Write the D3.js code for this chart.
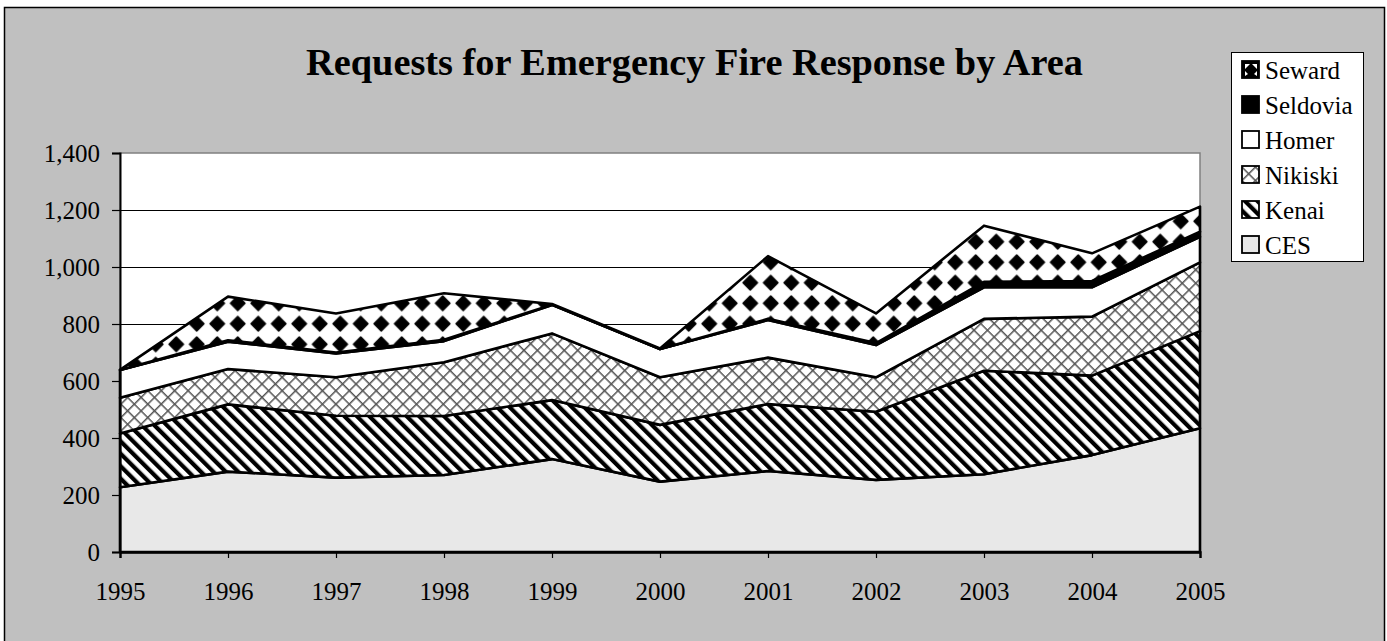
<!DOCTYPE html>
<html>
<head>
<meta charset="utf-8">
<script src="https://cdn.jsdelivr.net/npm/d3@7"></script>
<style>
  html, body { margin: 0; padding: 0; background: #ffffff; }
  svg { display: block; }
  text { font-family: "Liberation Serif", "Times New Roman", serif; fill: #000; }
</style>
</head>
<body>
<svg id="chart" width="1387" height="641"></svg>
<script>
// ---------------- data ----------------
const years = [1995, 1996, 1997, 1998, 1999, 2000, 2001, 2002, 2003, 2004, 2005];
const seriesNames = ["CES", "Kenai", "Nikiski", "Homer", "Seldovia", "Seward"];
const ces      = [227, 282, 261, 270, 326, 247, 284, 253, 273, 340, 434];
const kenai    = [189, 236, 217, 207, 207, 199, 235, 239, 363, 279, 341];
const nikiski  = [125, 124, 135, 189, 234, 167, 163, 121, 182, 207, 241];
const homer    = [ 98,  96,  84,  74, 100,  99, 132, 113, 111, 103,  90];
const seldovia = [  0,   5,   3,   5,   1,   0,   4,   7,  19,  22,  18];
const seward   = [  0, 153, 137, 163,   2,   2, 220, 104, 197,  97,  88];
const yTicks = [0, 200, 400, 600, 800, 1000, 1200, 1400];
const chartTitle = "Requests for Emergency Fire Response by Area";

// ---------------- layout ----------------
const W = 1387, H = 641;
const plot = { left: 120, right: 1200, top: 153, bottom: 552 };
const svg = d3.select("#chart");

const valuesBySeries = { CES: ces, Kenai: kenai, Nikiski: nikiski, Homer: homer, Seldovia: seldovia, Seward: seward };
const table = years.map((yr, i) => {
  const row = { year: yr };
  seriesNames.forEach(s => row[s] = valuesBySeries[s][i]);
  return row;
});

const x = d3.scaleLinear().domain([years[0], years[years.length - 1]]).range([plot.left, plot.right]);
const y = d3.scaleLinear().domain([0, 1400]).range([plot.bottom, plot.top]);

// ---------------- patterns ----------------
const defs = svg.append("defs");
const soft = defs.append("filter").attr("id", "soft").attr("x", 0).attr("y", 0).attr("width", 1).attr("height", 1);
soft.append("feGaussianBlur").attr("stdDeviation", 0.6);

// Kenai: diagonal "\" stripes
const pK = defs.append("pattern").attr("id", "pat-kenai")
  .attr("patternUnits", "userSpaceOnUse").attr("width", 8.8).attr("height", 8.8)
  .attr("patternTransform", "rotate(-45)");
pK.append("rect").attr("width", 8.8).attr("height", 8.8).attr("fill", "#fff");
pK.append("rect").attr("x", 0).attr("width", 4.2).attr("height", 8.8).attr("fill", "#000");

// Nikiski: diagonal crosshatch
const pN = defs.append("pattern").attr("id", "pat-nikiski")
  .attr("patternUnits", "userSpaceOnUse").attr("width", 9.5).attr("height", 9.5)
  .attr("patternTransform", "rotate(45)");
pN.append("rect").attr("width", 9.5).attr("height", 9.5).attr("fill", "#fff");
pN.append("rect").attr("x", 0).attr("y", 0).attr("width", 1.5).attr("height", 9.5).attr("fill", "#555");
pN.append("rect").attr("x", 0).attr("y", 0).attr("width", 9.5).attr("height", 1.5).attr("fill", "#555");

// Seward: black diamonds on white
const pS = defs.append("pattern").attr("id", "pat-seward")
  .attr("patternUnits", "userSpaceOnUse").attr("width", 20.5).attr("height", 20.5)
  .attr("x", 2).attr("y", 6);
pS.append("rect").attr("width", 20.5).attr("height", 20.5).attr("fill", "#fff");
pS.append("path").attr("d", "M10.25,3 L17.5,10.25 L10.25,17.5 L3,10.25 Z")
  .attr("fill", "#000").attr("stroke", "#000").attr("stroke-width", 1.5).attr("stroke-linejoin", "round");

// legend-sized seward swatch pattern
const pS2 = defs.append("pattern").attr("id", "pat-seward-legend")
  .attr("patternUnits", "objectBoundingBox").attr("width", 1).attr("height", 1);
pS2.append("rect").attr("width", 18).attr("height", 18).attr("fill", "#000");
pS2.append("path").attr("d", "M3,3 L8,3 L3,8 Z M15,3 L10,3 L15,8 Z").attr("fill", "#fff");
pS2.append("path").attr("d", "M3,10 L6,13 L3,15 Z M15,10 L12,13 L15,15 Z").attr("fill", "#fff");

const fills = {
  CES: "#e8e8e8",
  Kenai: "url(#pat-kenai)",
  Nikiski: "url(#pat-nikiski)",
  Homer: "#ffffff",
  Seldovia: "#000000",
  Seward: "url(#pat-seward)"
};

// ---------------- background ----------------
svg.append("rect").attr("x", 0).attr("y", 0).attr("width", W).attr("height", H).attr("fill", "#ffffff");
svg.append("rect").attr("x", 4.5).attr("y", 7.5).attr("width", 1380).attr("height", 650)
  .attr("fill", "#c0c0c0").attr("stroke", "#000").attr("stroke-width", 1.5);

// plot area
svg.append("rect").attr("x", plot.left).attr("y", plot.top)
  .attr("width", plot.right - plot.left).attr("height", plot.bottom - plot.top)
  .attr("fill", "#ffffff").attr("stroke", "#808080").attr("stroke-width", 1.5);

// gridlines
svg.append("g").selectAll("line").data(yTicks.filter(d => d > 0 && d < 1400)).join("line")
  .attr("x1", plot.left).attr("x2", plot.right)
  .attr("y1", d => Math.round(y(d)) + 0.5).attr("y2", d => Math.round(y(d)) + 0.5)
  .attr("stroke", "#000").attr("stroke-width", 1);

// ---------------- stacked areas ----------------
const stack = d3.stack().keys(seriesNames);
const layers = stack(table);

const area = d3.area()
  .x(d => x(d.data.year))
  .y0(d => y(d[0]))
  .y1(d => y(d[1]));

const gAreas = svg.append("g");
gAreas.selectAll("path.area").data(layers).join("path")
  .attr("class", "area")
  .attr("d", area)
  .attr("fill", d => fills[d.key])
  .attr("stroke", "#000").attr("stroke-width", 2.6).attr("stroke-linejoin", "round");

// ---------------- axes ----------------
const yAxis = d3.axisLeft(y).tickValues(yTicks).tickFormat(d3.format(",")).tickSize(8).tickPadding(12);
const gy = svg.append("g").attr("transform", `translate(${plot.left},0)`).call(yAxis);
gy.select(".domain").attr("stroke", "#000").attr("stroke-width", 2);
gy.selectAll(".tick line").attr("stroke", "#000").attr("stroke-width", 1.2);
gy.selectAll("text").attr("font-size", 25);

const xAxis = d3.axisBottom(x).tickValues(years).tickFormat(d3.format("d")).tickSize(6).tickPadding(24);
const gx = svg.append("g").attr("transform", `translate(0,${plot.bottom})`).call(xAxis);
gx.select(".domain").attr("stroke", "#000").attr("stroke-width", 2.4);
gx.selectAll(".tick line").attr("stroke", "#000").attr("stroke-width", 1.2);
gx.selectAll("text").attr("font-size", 25);

// ---------------- title ----------------
const title = svg.append("text")
  .attr("x", 694.5).attr("y", 75)
  .attr("text-anchor", "middle")
  .attr("font-weight", "bold")
  .attr("font-size", 36)
  .text(chartTitle);
const tw = title.node().getComputedTextLength();
if (tw > 0) title.attr("font-size", 36 * 777 / tw);

// ---------------- legend ----------------
const lg = svg.append("g");
lg.append("rect").attr("x", 1231.5).attr("y", 52.5).attr("width", 132).attr("height", 209)
  .attr("fill", "#fff").attr("stroke", "#000").attr("stroke-width", 1);
const legendOrder = seriesNames.slice().reverse();
const legendFills = Object.assign({}, fills, { Seward: "url(#pat-seward-legend)" });
const items = lg.selectAll("g.item").data(legendOrder).join("g")
  .attr("class", "item")
  .attr("transform", (d, i) => `translate(1242,${61 + i * 35})`);
items.append("rect").attr("x", 0).attr("y", 0).attr("width", 17).attr("height", 17)
  .attr("fill", d => legendFills[d]).attr("stroke", "#000").attr("stroke-width", 1.8);
items.append("text").attr("x", 23).attr("y", 17.5).attr("font-size", 25).text(d => d);
</script>
</body>
</html>
